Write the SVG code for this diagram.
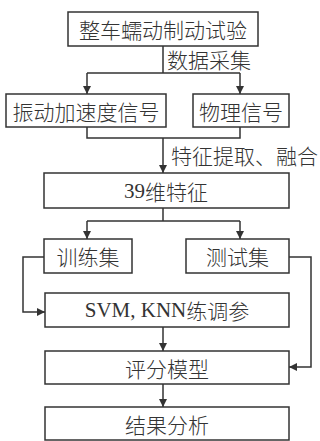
<svg xmlns="http://www.w3.org/2000/svg" width="320" height="441" viewBox="0 0 320 441">
<style>
.box{fill:#fff;stroke:#333;stroke-width:1.5}
.t{font-family:"Noto Sans CJK SC","Noto Sans",sans-serif;font-size:21px;font-weight:300;fill:#333;text-anchor:middle;dominant-baseline:central}
.l{font-family:"Noto Sans CJK SC","Noto Sans",sans-serif;font-size:21px;font-weight:300;fill:#333;dominant-baseline:central}
.s{font-family:"Liberation Serif","Noto Sans CJK SC",serif;font-weight:400}
.c{fill:none;stroke:#333;stroke-width:1.5}
</style>
<defs>
<marker id="ah" markerUnits="userSpaceOnUse" markerWidth="9" markerHeight="8" refX="8" refY="4" orient="auto">
<path d="M0,0 L8,4 L0,8 Z" fill="#333"/>
</marker>
</defs>
<g id="connectors">
<path class="c" d="M163,46 V73 M87,73 H240"/>
<path class="c" d="M87,73 V94" marker-end="url(#ah)"/>
<path class="c" d="M240,73 V94" marker-end="url(#ah)"/>
<path class="c" d="M87,127 V138 H240 V127"/>
<path class="c" d="M163,138 V173" marker-end="url(#ah)"/>
<path class="c" d="M163,208 V221 M87,221 H240"/>
<path class="c" d="M87,221 V239" marker-end="url(#ah)"/>
<path class="c" d="M240,221 V239" marker-end="url(#ah)"/>
<path class="c" d="M44,257 H23 V312 H45" marker-end="url(#ah)"/>
<path class="c" d="M289,257 H311 V367 H289" marker-end="url(#ah)"/>
<path class="c" d="M163,327 V351" marker-end="url(#ah)"/>
<path class="c" d="M163,384 V407" marker-end="url(#ah)"/>
<text class="l" x="167" y="59">数据采集</text>
<text class="l" x="171" y="155">特征提取、融合</text>
</g>
<g id="n1"><rect class="box" x="68" y="12" width="190" height="34"/><text class="t" x="163" y="29">整车蠕动制动试验</text></g>
<g id="n2"><rect class="box" x="6" y="94" width="160" height="33"/><text class="t" x="86" y="110.5">振动加速度信号</text></g>
<g id="n3"><rect class="box" x="193" y="94" width="96" height="33"/><text class="t" x="241" y="110.5">物理信号</text></g>
<g id="n4"><rect class="box" x="44" y="173" width="245" height="35"/><text class="t" x="166" y="190.5"><tspan class="s">39</tspan>维特征</text></g>
<g id="n5"><rect class="box" x="44" y="239" width="88" height="34"/><text class="t" x="88" y="256">训练集</text></g>
<g id="n6"><rect class="box" x="186" y="239" width="103" height="34"/><text class="t" x="237.5" y="256">测试集</text></g>
<g id="n7"><rect class="box" x="45" y="293" width="244" height="34"/><text class="t" x="167" y="310"><tspan class="s">SVM, KNN</tspan>练调参</text></g>
<g id="n8"><rect class="box" x="45" y="351" width="244" height="33"/><text class="t" x="167" y="367.5">评分模型</text></g>
<g id="n9"><rect class="box" x="45" y="407" width="244" height="33"/><text class="t" x="167" y="423.5">结果分析</text></g>
</svg>
